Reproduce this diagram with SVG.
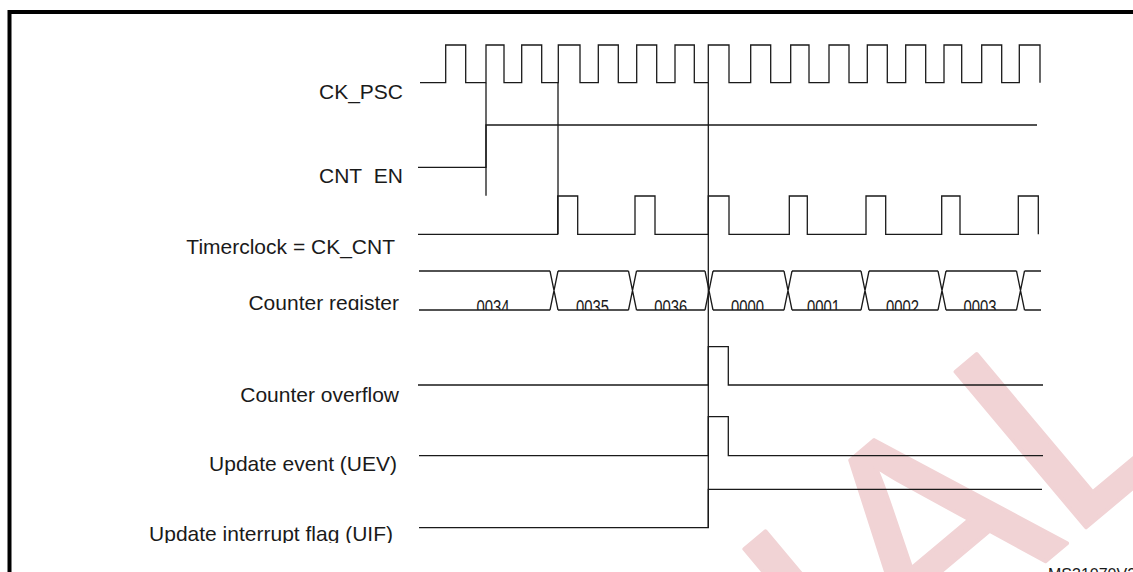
<svg xmlns="http://www.w3.org/2000/svg" width="1133" height="572" viewBox="0 0 1133 572">
<style>
.lbl{font-family:"Liberation Sans",Arial,sans-serif;font-size:21px;fill:#1a1a1a;text-anchor:end}
.val{font-family:"Liberation Sans",Arial,sans-serif;font-size:20px;fill:#1a1a1a;text-anchor:middle}
.sig{fill:none;stroke:#1a1a1a;stroke-width:1.3}
.wm{font-family:"Liberation Sans",Arial,sans-serif;font-size:295px;fill:#f1d3d5;stroke:#f1d3d5;stroke-width:4;stroke-linejoin:round}
</style>
<defs>
<clipPath id="cEN"><rect x="0" y="0" width="420" height="184"/></clipPath>
<clipPath id="cCR"><rect x="0" y="250" width="1133" height="60"/></clipPath>
<clipPath id="cUIF"><rect x="0" y="480" width="420" height="63"/></clipPath>
</defs>
<rect width="1133" height="572" fill="#fff"/>
<g id="watermark"><text class="wm" transform="translate(854,722) rotate(-40)">IAL</text></g>
<rect x="9.5" y="12" width="1200" height="700" fill="none" stroke="#000" stroke-width="4"/>
<g id="labels">
<text id="l-ckpsc" class="lbl" x="403" y="99">CK_PSC</text>
<text id="l-cnten" class="lbl" x="403" y="183" clip-path="url(#cEN)">CNT_EN</text>
<text id="l-timer" class="lbl" x="395" y="254">Timerclock = CK_CNT</text>
<text id="l-creg" class="lbl" x="399" y="310" clip-path="url(#cCR)">Counter register</text>
<text id="l-ovf" class="lbl" x="399" y="402">Counter overflow</text>
<text id="l-uev" class="lbl" x="397" y="471">Update event (UEV)</text>
<text id="l-uif" class="lbl" x="393" y="541" clip-path="url(#cUIF)">Update interrupt flag (UIF)</text>
</g>
<g id="connectors" class="sig">
<path d="M486,82.7 V195.7 M558,82.7 V234 M708.3,82.7 V527.7"/>
</g>
<g id="ck_psc" class="sig"><path d="M420,82.7 H445.7 V45 H465.7 V82.7 H486 V45 H504 V82.7 H521.7 V45 H541.7 V82.7 H558.3 V45 H580 V82.7 H598.3 V45 H618.3 V82.7 H636.7 V45 H656.7 V82.7 H675 V45 H694.3 V82.7 H708.3 V45 H729 V82.7 H750.7 V45 H770.7 V82.7 H790.7 V45 H809 V82.7 H829 V45 H849 V82.7 H867.3 V45 H887.3 V82.7 H905.7 V45 H925.7 V82.7 H944 V45 H961.7 V82.7 H981.7 V45 H1001.7 V82.7 H1019.3 V45 H1040 V82.7"/></g>
<g id="cnt_en" class="sig"><path d="M418,167.3 H486 V125 H1037"/></g>
<g id="ck_cnt" class="sig"><path d="M418,234.3 H557.7 V196 H577.7 V234.3 H635 V196 H655 V234.3 H708.3 V196 H729 V234.3 H789.3 V196 H807.3 V234.3 H866 V196 H885.7 V234.3 H941.7 V196 H960 V234.3 H1018.3 V196 H1038.3 V234.3"/></g>
<g id="counter" class="sig">
<path d="M419,271 H550 M558,271 H628.5 M636.5,271 H705 M713,271 H784 M792,271 H861 M869,271 H938 M946,271 H1016.5 M1024.5,271 H1041 M419,310 H550 M558,310 H628.5 M636.5,310 H705 M713,310 H784 M792,310 H861 M869,310 H938 M946,310 H1016.5 M1024.5,310 H1041 M550,271 L558,310 M550,310 L558,271 M628.5,271 L636.5,310 M628.5,310 L636.5,271 M705,271 L713,310 M705,310 L713,271 M784,271 L792,310 M784,310 L792,271 M861,271 L869,310 M861,310 L869,271 M938,271 L946,310 M938,310 L946,271 M1016.5,271 L1024.5,310 M1016.5,310 L1024.5,271"/>
</g>
<g id="counter-values" clip-path="url(#cCR)">
<text class="val" x="493" y="314" textLength="33" lengthAdjust="spacingAndGlyphs">0034</text>
<text class="val" x="592.5" y="314" textLength="33" lengthAdjust="spacingAndGlyphs">0035</text>
<text class="val" x="670.8" y="314" textLength="33" lengthAdjust="spacingAndGlyphs">0036</text>
<text class="val" x="747.5" y="314" textLength="33" lengthAdjust="spacingAndGlyphs">0000</text>
<text class="val" x="823.5" y="314" textLength="33" lengthAdjust="spacingAndGlyphs">0001</text>
<text class="val" x="902.5" y="314" textLength="33" lengthAdjust="spacingAndGlyphs">0002</text>
<text class="val" x="980" y="314" textLength="33" lengthAdjust="spacingAndGlyphs">0003</text>
</g>
<g id="overflow" class="sig"><path d="M418,385 H708.3 V346.7 H728.3 V385 H1043"/></g>
<g id="uev" class="sig"><path d="M419,455.7 H708.3 V416.7 H728.3 V455.7 H1043"/></g>
<g id="uif" class="sig"><path d="M419,527.7 H708.3 V489.3 H1042"/></g>
<text id="ref" x="1048" y="580" style="font-family:'Liberation Sans',Arial,sans-serif;font-size:16px;fill:#1a1a1a">MS31070V2</text>
</svg>
